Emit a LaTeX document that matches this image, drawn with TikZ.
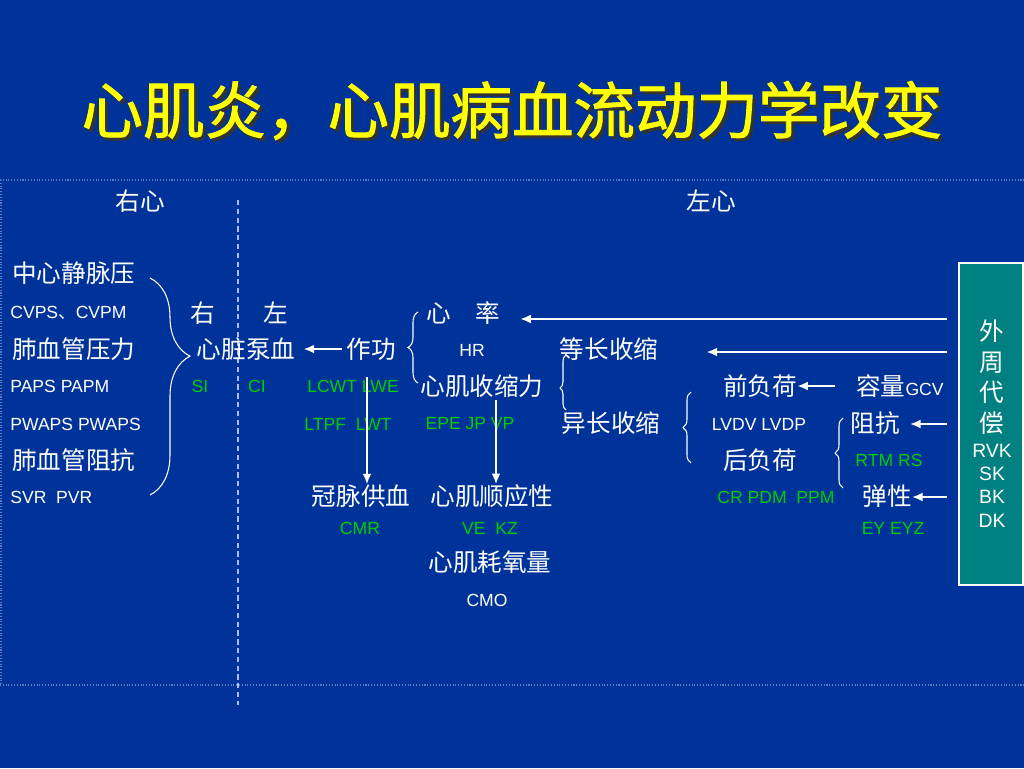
\documentclass[tikz,border=0pt]{standalone}
\usepackage{fontspec}
\setmainfont{Liberation Sans}
\newfontfamily\cjk{Noto Sans CJK SC}
\newfontfamily\cjktit[FakeBold=1.5]{Noto Sans CJK SC}
\usetikzlibrary{arrows.meta,decorations.pathreplacing}
\definecolor{fondo}{RGB}{0,51,153}
\definecolor{verde}{RGB}{0,204,0}
\definecolor{amarillo}{RGB}{255,255,0}
\definecolor{verdeazul}{RGB}{0,128,128}
\definecolor{puntos}{RGB}{90,120,200}
\definecolor{rayas}{RGB}{170,190,240}
\newcommand{\titsombra}[1]{\makebox[0pt][l]{\kern1.7pt\raisebox{-1.7pt}{\color{black!80}#1}}#1}
\tikzset{
  txtzh/.style={text=white,inner sep=0pt,font={\cjk\fontsize{14}{16}\selectfont}},
  txten/.style={text=white,inner sep=0pt,font={\fontsize{10}{12}\selectfont}},
  txtverde/.style={txten,text=verde},
  flecha/.style={draw=white,line width=1.1pt,-{Latex[length=6pt,width=5pt]}},
  llave/.style={draw=white,line width=0.6pt,decorate},
}
\begin{document}
\begin{tikzpicture}[x=0.02cm,y=-0.02cm]
        % Fondo
        \fill[fondo] (0,0) rectangle (1024,768);
        \useasboundingbox (0,0) rectangle (1024,768);
        % Titulo
        \node[text=amarillo,font={\cjktit\fontsize{35}{40}\selectfont}] (titulo) at (512,112) {\titsombra{心肌炎，心肌病血流动力学改变}};
        % Lineas del marco
        \draw[puntos,densely dotted,line width=0.6pt] (0,180) -- (1024,180);
        \draw[puntos,densely dotted,line width=0.6pt] (0,685) -- (1024,685);
        \draw[puntos,densely dotted,line width=0.6pt] (1,180) -- (1,685);
        \draw[rayas,line width=1.1pt,dash pattern=on 3pt off 2pt] (238,200) -- (238,705);
        % Cabecera
        \node[txtzh] (rc) at (140,201) {右心};
        \node[txtzh] (lc) at (711,201) {左心};
        % Columna izquierda
        \node[txtzh,anchor=west] (cvp) at (12,273) {中心静脉压};
        \node[txten,anchor=west] (cvps) at (10,313) {CVPS{\cjk 、}CVPM};
        \node[txtzh,anchor=west] (fyl) at (12,349) {肺血管压力};
        \node[txten,anchor=west] (paps) at (10,386) {PAPS PAPM};
        \node[txten,anchor=west] (pwaps) at (10,424) {PWAPS PWAPS};
        \node[txtzh,anchor=west] (fzk) at (12,460) {肺血管阻抗};
        \node[txten,anchor=west] (svr) at (10,497) {SVR\ \ PVR};
        \draw[llave,decoration={brace,amplitude=0.8cm,aspect=0.36}] (150,278) -- (150,495);
        % Bombeo
        \node[txtzh] (der) at (203,313) {右};
        \node[txtzh] (izq) at (276,313) {左};
        \node[txtzh] (bomba) at (246,349) {心脏泵血};
        \node[txtzh] (zg) at (371,349) {作功};
        \node[txtverde] (si) at (200,386) {SI};
        \node[txtverde] (ci) at (257,386) {CI};
        \node[txtverde] (lcwt) at (353,386) {LCWT LWE};
        \node[txtverde] (ltpf) at (348,424) {LTPF\ \ LWT};
        \node[txtzh] (gm) at (361,496) {冠脉供血};
        \node[txtverde] (cmr) at (360,528) {CMR};
        \draw[flecha,shorten <=0.08cm,shorten >=0.16cm] (zg.west) -- (bomba.east);
        \draw[llave,decoration={brace,amplitude=0.2cm,aspect=0.5}] (418,383) -- (418,312);
        % Centro
        \node[txtzh] (xl) at (463,313) {心　率};
        \node[txten] (hr) at (472,350) {HR};
        \node[txtzh] (sx) at (482,386) {心肌收缩力};
        \node[txtverde] (epe) at (470,424) {EPE JP VP};
        \node[txtzh] (sy) at (492,496) {心肌顺应性};
        \node[txtverde] (ve) at (490,528) {VE\ \ KZ};
        \node[txtzh] (hy) at (490,562) {心肌耗氧量};
        \node[txten] (cmo) at (487,600) {CMO};
        \node[txtzh] (dc) at (609,349) {等长收缩};
        \node[txtzh] (yc) at (611,423) {异长收缩};
        \draw[llave,decoration={brace,amplitude=0.12cm,aspect=0.4}] (566,410) -- (566,355);
        \coordinate (c1) at (367,377);
        \coordinate (c2) at (496,400);
        \draw[flecha] (c1) -- (c1 |- gm.north);
        \draw[flecha] (c2) -- (c2 |- sy.north);
        % Derecha
        \node[txtzh] (qf) at (760,386) {前负荷};
        \node[txten] (lvdv) at (759,424) {LVDV LVDP};
        \node[txtzh] (hf) at (760,460) {后负荷};
        \node[txtverde] (cr) at (776,497) {CR PDM\ \ PPM};
        \node[txtzh] (rl) at (900,386) {容量{\rmfamily\fontsize{10}{12}\selectfont GCV}};
        \node[txtzh] (zk) at (875,423) {阻抗};
        \node[txtverde] (rtm) at (889,460) {RTM RS};
        \node[txtzh] (tx) at (887,496) {弹性};
        \node[txtverde] (ey) at (893,528) {EY EYZ};
        \draw[llave,decoration={brace,amplitude=0.16cm,aspect=0.5}] (691,463) -- (691,392);
        \draw[llave,decoration={brace,amplitude=0.16cm,aspect=0.5}] (843,488) -- (843,418);
        \draw[flecha,shorten <=0.43cm] (rl.west) -- (qf.east);
        % Caja de compensacion
        \draw[fill=verdeazul,draw=white,line width=0.6pt] (959,263) rectangle (1023,585);
        \node[txtzh] (wai) at (992,331) {外};
        \node[txtzh] (zhou) at (992,363) {周};
        \node[txtzh] (dai) at (992,392) {代};
        \node[txtzh] (chang) at (992,423) {偿};
        \node[txten,font={\fontsize{11}{13}\selectfont}] (rvk) at (992,451) {RVK};
        \node[txten,font={\fontsize{11}{13}\selectfont}] (sk) at (992,474) {SK};
        \node[txten,font={\fontsize{11}{13}\selectfont}] (bk) at (992,497) {BK};
        \node[txten,font={\fontsize{11}{13}\selectfont}] (dk) at (992,521) {DK};
        \coordinate (r1) at (947,319);
        \coordinate (r2) at (947,352);
        \coordinate (r3) at (947,424);
        \coordinate (r4) at (947,497);
        \draw[flecha,shorten >=0.4cm] (r1) -- (r1 -| xl.east);
        \draw[flecha,shorten >=0.96cm] (r2) -- (r2 -| dc.east);
        \draw[flecha,shorten >=0.2cm] (r3) -- (r3 -| zk.east);
        \draw[flecha] (r4) -- (r4 -| tx.east);
\end{tikzpicture}
\end{document}
